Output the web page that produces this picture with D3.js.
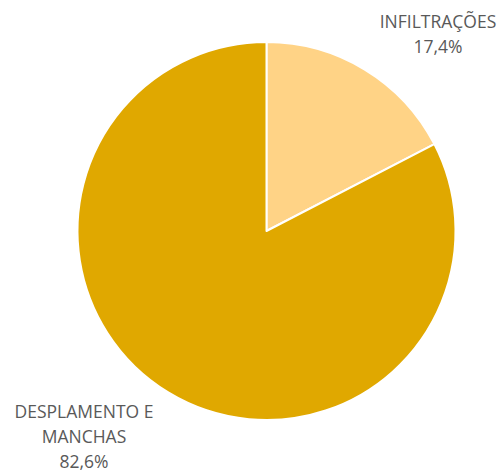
<!DOCTYPE html>
<html>
<head>
<meta charset="utf-8">
<script src="https://cdn.jsdelivr.net/npm/d3@7"></script>
<style>
  body { margin: 0; background: #fff; }
  text { font-family: "Open Sans", "Liberation Sans", sans-serif; fill: #595959; }
</style>
</head>
<body>
<svg id="chart" width="499" height="472"></svg>
<script>
// Categories and shares (percent)
const categories = ["INFILTRAÇÕES", "DESPLAMENTO E MANCHAS"];
const values = [17.4, 82.6];
const valueLabels = ["17,4%", "82,6%"];
const colors = ["#FFD386", "#E0A800"];

const svg = d3.select("#chart");
const cx = 266.5, cy = 231, r = 189;

const pie = d3.pie().sort(null).value(d => d.value);
const arcs = pie(categories.map((c, i) => ({ name: c, value: values[i], color: colors[i] })));
const arc = d3.arc().innerRadius(0).outerRadius(r);

const g = svg.append("g").attr("transform", `translate(${cx},${cy})`);
g.selectAll("path")
  .data(arcs)
  .join("path")
  .attr("d", arc)
  .attr("fill", d => d.data.color)
  .attr("stroke", "#fff")
  .attr("stroke-width", 2)
  .attr("stroke-linejoin", "round");

// Data labels placed outside the pie
const labelSpecs = [
  { x: 438, y: 28, lines: ["INFILTRAÇÕES", valueLabels[0]] },
  { x: 84, y: 418, lines: ["DESPLAMENTO E", "MANCHAS", valueLabels[1]] }
];
labelSpecs.forEach(s => {
  const t = svg.append("text")
    .attr("text-anchor", "middle")
    .attr("font-size", 17.5);
  s.lines.forEach((ln, i) => {
    t.append("tspan").attr("x", s.x).attr("y", s.y + i * 25).text(ln);
  });
});
</script>
</body>
</html>
